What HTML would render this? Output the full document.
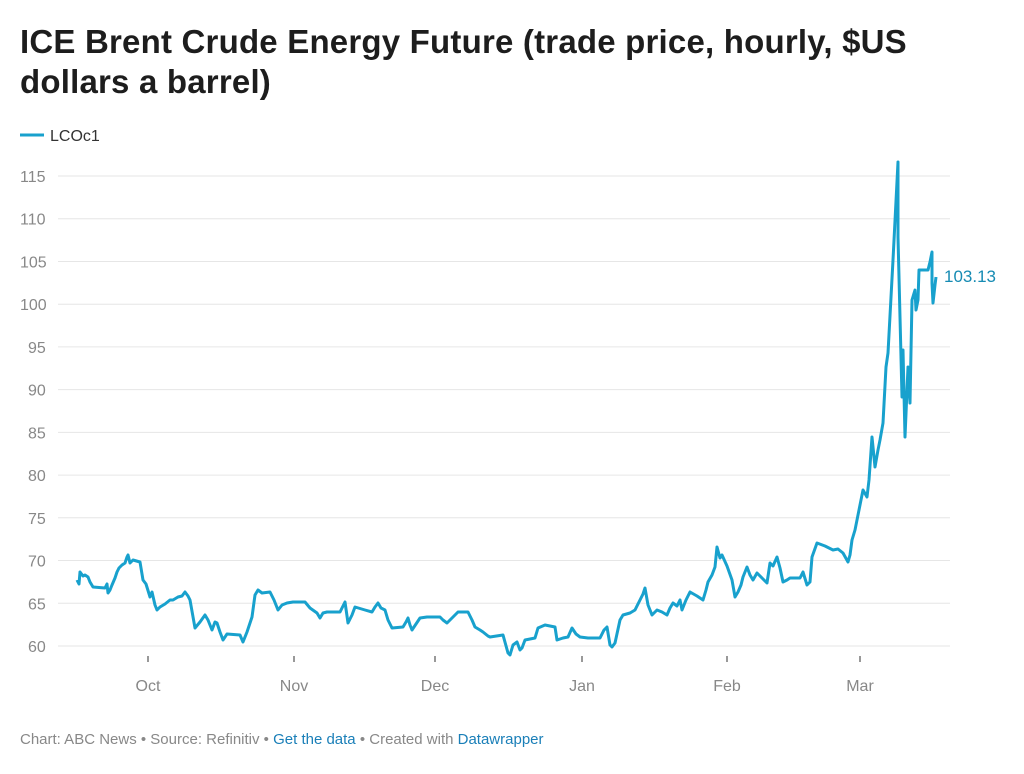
<!DOCTYPE html>
<html><head><meta charset="utf-8"><style>
body{margin:0;width:1024px;height:774px;background:#fff;font-family:"Liberation Sans",sans-serif;overflow:hidden}
h1{position:absolute;left:20px;top:22px;margin:0;font-size:33px;line-height:40px;font-weight:bold;color:#1d1d1d;letter-spacing:0.2px;width:900px}
</style></head><body>
<h1>ICE Brent Crude Energy Future (trade price, hourly, $US dollars a barrel)</h1>
<svg width="1024" height="774" style="position:absolute;left:0;top:0" font-family="Liberation Sans, sans-serif">
<line x1="20" y1="135" x2="44" y2="135" stroke="#18a1cd" stroke-width="3"/>
<text x="50" y="141" font-size="16" fill="#333">LCOc1</text>
<g stroke="#e6e6e6" stroke-width="1">
<line x1="58" x2="950" y1="176" y2="176"/><line x1="58" x2="950" y1="218.7" y2="218.7"/><line x1="58" x2="950" y1="261.5" y2="261.5"/><line x1="58" x2="950" y1="304.2" y2="304.2"/><line x1="58" x2="950" y1="346.9" y2="346.9"/><line x1="58" x2="950" y1="389.6" y2="389.6"/><line x1="58" x2="950" y1="432.4" y2="432.4"/><line x1="58" x2="950" y1="475.1" y2="475.1"/><line x1="58" x2="950" y1="517.8" y2="517.8"/><line x1="58" x2="950" y1="560.5" y2="560.5"/><line x1="58" x2="950" y1="603.3" y2="603.3"/><line x1="58" x2="950" y1="646" y2="646"/>
</g>
<g font-size="16" fill="#888" text-anchor="start">
<text x="20" y="182">115</text><text x="20" y="224.7">110</text><text x="20" y="267.5">105</text><text x="20" y="310.2">100</text><text x="28" y="352.9">95</text><text x="28" y="395.6">90</text><text x="28" y="438.4">85</text><text x="28" y="481.1">80</text><text x="28" y="523.8">75</text><text x="28" y="566.5">70</text><text x="28" y="609.3">65</text><text x="28" y="652">60</text>
</g>
<g stroke="#333" stroke-width="1">
<line x1="148" x2="148" y1="656" y2="662"/><line x1="294" x2="294" y1="656" y2="662"/><line x1="435" x2="435" y1="656" y2="662"/><line x1="582" x2="582" y1="656" y2="662"/><line x1="727" x2="727" y1="656" y2="662"/><line x1="860" x2="860" y1="656" y2="662"/>
</g>
<g font-size="16" fill="#888" text-anchor="middle">
<text x="148" y="691">Oct</text><text x="294" y="691">Nov</text><text x="435" y="691">Dec</text><text x="582" y="691">Jan</text><text x="727" y="691">Feb</text><text x="860" y="691">Mar</text>
</g>
<polyline fill="none" stroke="#18a1cd" stroke-width="3" stroke-linejoin="round" points="77,580 79,584 80,572 83,576 85,575 88,577 90,582 93,587 105,588 107,584 108,593 110,590 112,585 115,578 117,572 119,568 122,565 125,563 127,557 128,555 130,563 133,560 140,562 143,580 146,584 150,597 152,592 155,605 157,610 160,607 165,604 170,600 173,600 178,597 182,596 185,592 188,596 190,600 195,628 200,622 205,615 208,620 212,630 215,622 217,623 220,632 223,640 227,634 240,635 243,642 247,632 252,617 255,595 258,590 262,593 270,592 274,600 278,610 282,605 287,603 293,602 305,602 310,608 317,613 320,618 323,613 327,612 340,612 345,602 348,623 352,615 355,607 365,610 372,612 375,607 378,603 381,608 385,610 388,620 392,628 403,627 406,622 408,618 410,625 412,630 416,624 420,618 427,617 440,617 443,620 447,623 452,618 458,612 468,612 472,620 475,627 480,630 483,632 488,636 490,637 503,635 508,653 510,655 513,645 517,642 520,650 522,648 525,640 535,638 538,628 545,625 555,627 557,640 563,638 568,637 572,628 576,634 580,637 588,638 600,638 604,630 607,627 610,645 612,647 615,643 620,620 623,615 630,613 635,610 640,600 643,594 645,588 648,605 652,615 657,610 662,612 667,615 670,608 673,603 677,606 680,600 682,610 686,600 690,592 697,596 703,600 706,590 708,582 712,575 715,567 717,547 720,558 722,555 727,566 732,580 735,597 738,592 741,585 743,577 745,572 747,567 750,575 753,580 757,573 762,578 767,583 770,563 773,566 777,557 780,568 783,582 787,580 790,578 800,578 803,572 807,585 810,582 812,557 817,543 825,546 833,550 838,549 843,553 848,562 850,555 852,540 855,530 858,515 863,490 867,497 869,480 872,437 875,467 878,450 880,440 883,423 886,367 888,353 893,260 898,162 898,237 900,317 902,397 903,350 905,437 908,367 910,403 912,300 915,290 916,310 918,300 919,270 928,270 930,262 932,252 932,283 933,303 935,285 936,277"/>
<text x="944" y="282" font-size="17" fill="#168bb3">103.13</text>
<text x="20" y="744" font-size="15" fill="#888">Chart: ABC News • Source: Refinitiv • <tspan fill="#1a7fb8">Get the data</tspan> • Created with <tspan fill="#1a7fb8">Datawrapper</tspan></text>
</svg>
</body></html>
